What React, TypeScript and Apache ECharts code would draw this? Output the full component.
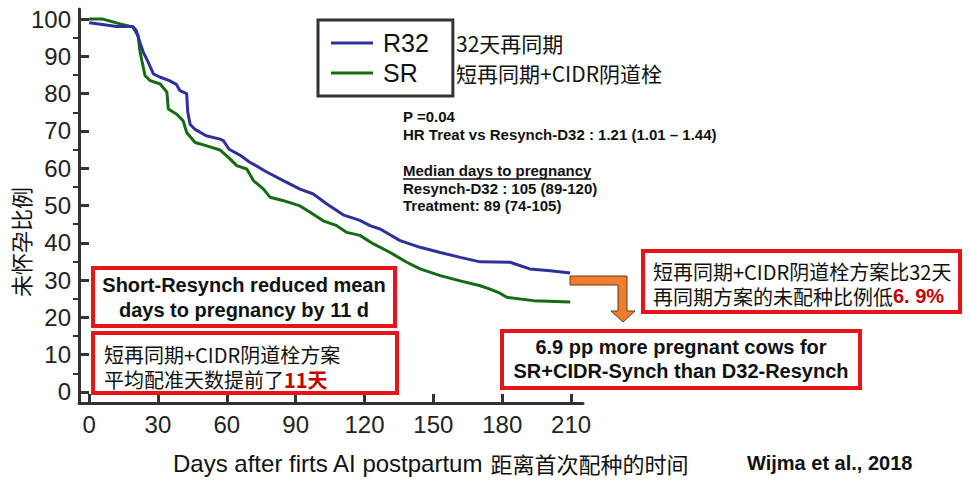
import React, { useEffect, useRef } from "react";
import * as echarts from "echarts";

// ---- Data (days after first AI, % not pregnant) ----
const r32Days = [0, 5, 12, 19, 20.5, 22, 23.7, 25.7, 28, 31, 35, 38, 39.6, 42.5, 43, 44, 46, 51, 57, 58.5, 61, 66, 70, 71.5, 77.4, 84.6, 91.9, 97.7, 103.6, 110.7, 118, 122.4, 126.8, 135.5, 144.2, 153, 161.7, 170.4, 183.4, 192, 200.9, 209.6];
const r32Pct = [99, 98.6, 98, 98, 97, 94, 91, 88.5, 85.3, 84.4, 83.5, 82.5, 80.8, 80, 75, 71.8, 70.5, 68.7, 67.8, 67.4, 65.1, 63.4, 61.6, 61.1, 59, 56.7, 54.4, 53.1, 50.4, 47.5, 46, 44.6, 43.7, 40.6, 38.8, 37.4, 36.1, 34.9, 34.8, 33, 32.5, 31.9];

const srDays = [0, 6, 13.5, 19, 21.4, 22, 23, 24.4, 26.6, 31, 33.9, 34.5, 38.2, 41, 42.5, 46.2, 51.3, 57, 61.4, 64.3, 68.7, 71.6, 76, 78.9, 84.7, 91.9, 96.3, 102, 107.9, 112.3, 118, 123.9, 131.2, 138.4, 144.2, 153, 161.7, 170.4, 174.7, 179, 182, 193.6, 209.6];
const srPct = [100, 100, 98.7, 97.9, 95.5, 92, 88.8, 84.8, 83.5, 82.6, 80.4, 75.9, 74.5, 72.7, 69.6, 66.9, 66, 64.9, 62.5, 60.7, 59.8, 56.7, 54.4, 52.2, 51.3, 49.9, 48.2, 45.9, 44.6, 42.8, 42, 39.7, 37.4, 34.8, 33, 31.2, 29.8, 28.5, 27.6, 26.5, 25.4, 24.5, 24.1];

const seriesNames = ["R32", "SR"];
const seriesNamesZh = ["32天再同期", "短再同期+CIDR阴道栓"];
const xTicks = [0, 30, 60, 90, 120, 150, 180, 210];
const yTicks = [0, 10, 20, 30, 40, 50, 60, 70, 80, 90, 100];
const yMinorTicks = [5, 15, 25, 35, 45, 55, 65, 75, 85, 95];

const xTitleEn = "Days after firts AI postpartum";
const xTitleZh = "距离首次配种的时间";
const yTitle = "未怀孕比例";
const statsLines = [
  "P =0.04",
  "HR Treat vs Resynch-D32 : 1.21 (1.01 – 1.44)",
];
const medianTitle = "Median days to pregnancy";
const medianLines = ["Resynch-D32 : 105 (89-120)", "Treatment: 89 (74-105)"];
const box1Text = "Short-Resynch reduced mean\ndays to pregnancy by 11 d";
const box2Line1 = "短再同期+CIDR阴道栓方案";
const box2Line2a = "平均配准天数提前了";
const box2Line2b = "11天";
const box3Text = "6.9 pp more pregnant cows for\nSR+CIDR-Synch than D32-Resynch";
const box4Line1 = "短再同期+CIDR阴道栓方案比32天";
const box4Line2a = "再同期方案的未配种比例低";
const box4Line2b = "6. 9%";
const citation = "Wijma et al., 2018";

const LAT = "'Liberation Sans', Arial, sans-serif";
const CJK = "'Noto Sans CJK SC', 'Liberation Sans', sans-serif";
const RED = "#e8141a";
const DARKRED = "#c00000";

function zip(a: number[], b: number[]) {
  return a.map((v, i) => [v, b[i]]);
}

function txt(x: number, y: number, text: string, opts: any = {}) {
  const align = opts.align || "left";
  const valign = opts.valign || "middle";
  return {
    type: "text",
    x,
    y,
    z: 100,
    rotation: opts.rotation || 0,
    style: {
      text,
      fill: opts.fill || "#111",
      fontSize: opts.fontSize || 15,
      fontWeight: opts.fontWeight || "normal",
      fontFamily: opts.fontFamily || LAT,
      align,
      verticalAlign: valign,
      textAlign: align,
      textVerticalAlign: valign,
      lineHeight: opts.lineHeight,
      rich: opts.rich,
    },
  };
}

function redBox(x: number, y: number, w: number, h: number) {
  return {
    type: "rect",
    z: 90,
    shape: { x, y, width: w, height: h },
    style: { fill: "#fff", stroke: RED, lineWidth: 4 },
  };
}

export default function App() {
  const ref = useRef<HTMLDivElement>(null);

  useEffect(() => {
    if (!ref.current) return;
    const chart = echarts.init(ref.current, undefined, { renderer: "svg" });

    const axisLabelStyle = {
      fontSize: 24,
      fontFamily: LAT,
      color: "#222",
    };

    const option: any = {
      animation: false,
      backgroundColor: "#fff",
      grid: { left: 79, top: 9, width: 504, height: 394, containLabel: false },
      legend: {
        data: seriesNames,
        orient: "vertical",
        left: 318,
        top: 20,
        padding: [9, 24, 9, 13],
        itemGap: 2,
        itemWidth: 42,
        itemHeight: 3,
        icon: "rect",
        borderColor: "#333",
        borderWidth: 3,
        backgroundColor: "#fff",
        textStyle: { fontSize: 25, fontFamily: LAT, color: "#111", lineHeight: 28, padding: [0, 0, 0, 5] },
      },
      xAxis: {
        type: "value",
        min: -4.4,
        max: 215.2,
        axisLine: { show: true, onZero: false, lineStyle: { color: "#333", width: 3 } },
        axisTick: { show: true, inside: true, length: 9, customValues: xTicks, lineStyle: { color: "#333", width: 3 } },
        axisLabel: { customValues: xTicks, margin: 9, ...axisLabelStyle },
        splitLine: { show: false },
      },
      yAxis: [
        {
          type: "value",
          min: -2.95,
          max: 102.7,
          position: "left",
          offset: 0,
          axisLine: { show: true, onZero: false, lineStyle: { color: "#333", width: 3 } },
          axisTick: { show: true, inside: true, length: 10, customValues: yTicks, lineStyle: { color: "#333", width: 3 } },
          axisLabel: { customValues: yTicks, margin: 8, ...axisLabelStyle },
          splitLine: { show: false },
        },
        {
          // minor ticks: a right-side axis moved onto the left edge
          type: "value",
          min: -2.95,
          max: 102.7,
          position: "right",
          offset: -504,
          axisLine: { show: false, onZero: false },
          axisTick: { show: true, inside: true, length: 6, customValues: yMinorTicks, lineStyle: { color: "#333", width: 2 } },
          axisLabel: { show: false, customValues: yMinorTicks },
          splitLine: { show: false },
        },
      ],
      series: [
        {
          name: seriesNames[0],
          type: "line",
          yAxisIndex: 0,
          data: zip(r32Days, r32Pct),
          symbol: "none",
          color: "#30309a",
          lineStyle: { width: 3, color: "#30309a" },
          z: 3,
        },
        {
          name: seriesNames[1],
          type: "line",
          yAxisIndex: 0,
          data: zip(srDays, srPct),
          symbol: "none",
          color: "#136b13",
          lineStyle: { width: 3, color: "#136b13" },
          z: 2,
        },
      ],
      graphic: [
        // legend Chinese labels
        txt(456, 43, seriesNamesZh[0], { fontSize: 21, fontFamily: CJK, lineHeight: 24 }),
        txt(456, 73, seriesNamesZh[1], { fontSize: 21, fontFamily: CJK, lineHeight: 24 }),
        // stats
        txt(403, 116, statsLines[0], { fontSize: 15, fontWeight: "bold" }),
        txt(403, 134, statsLines[1], { fontSize: 15, fontWeight: "bold" }),
        txt(403, 170, medianTitle, { fontSize: 15, fontWeight: "bold" }),
        {
          type: "line",
          z: 100,
          shape: { x1: 403, y1: 179, x2: 591, y2: 179 },
          style: { stroke: "#111", lineWidth: 1.3 },
        },
        txt(403, 188, medianLines[0], { fontSize: 15, fontWeight: "bold" }),
        txt(403, 205, medianLines[1], { fontSize: 15, fontWeight: "bold" }),
        // red boxes
        redBox(93, 268, 302, 58),
        txt(244, 297, box1Text, { fontSize: 20, fontWeight: "bold", align: "center", lineHeight: 25 }),
        redBox(93, 333, 304, 60),
        txt(104, 366.5, box2Line1 + "\n" + box2Line2a + "{r|" + box2Line2b + "}", {
          fontSize: 20,
          fontFamily: CJK,
          lineHeight: 25,
          rich: { r: { fill: DARKRED, color: DARKRED, fontWeight: "bold", fontSize: 20, fontFamily: CJK, lineHeight: 25 } },
        }),
        redBox(502, 331, 358, 57),
        txt(681, 359, box3Text, { fontSize: 20, fontWeight: "bold", align: "center", lineHeight: 24 }),
        redBox(643, 251, 317, 61),
        txt(653, 283.5, box4Line1 + "\n" + box4Line2a + "{r|" + box4Line2b + "}", {
          fontSize: 20,
          fontFamily: CJK,
          lineHeight: 25,
          rich: { r: { fill: DARKRED, color: DARKRED, fontWeight: "bold", fontSize: 20, fontFamily: LAT, lineHeight: 25 } },
        }),
        // orange arrow
        {
          type: "polygon",
          z: 95,
          shape: {
            points: [
              [570, 276], [627, 276], [627, 311], [635, 311], [623, 322],
              [611, 311], [618, 311], [618, 285], [570, 285],
            ],
          },
          style: { fill: "#ed7d31", stroke: "#6b3a12", lineWidth: 1 },
        },
        // axis titles
        txt(173, 463, xTitleEn + " {z|" + xTitleZh + "}", {
          fontSize: 24,
          fontFamily: LAT,
          fill: "#111",
          lineHeight: 28,
          rich: { z: { fontSize: 22, fontFamily: CJK, fill: "#111", color: "#111", lineHeight: 28 } },
        }),
        txt(20, 242, yTitle, { fontSize: 22, fontFamily: CJK, fill: "#111", align: "center", rotation: Math.PI / 2, lineHeight: 24 }),
        txt(747, 463, citation, { fontSize: 20, fontWeight: "bold" }),
      ],
    };

    chart.setOption(option);
    return () => chart.dispose();
  }, []);

  return (
    <div
      ref={ref}
      style={{ position: "absolute", left: 0, top: 0, width: 970, height: 490, background: "#fff" }}
    />
  );
}
